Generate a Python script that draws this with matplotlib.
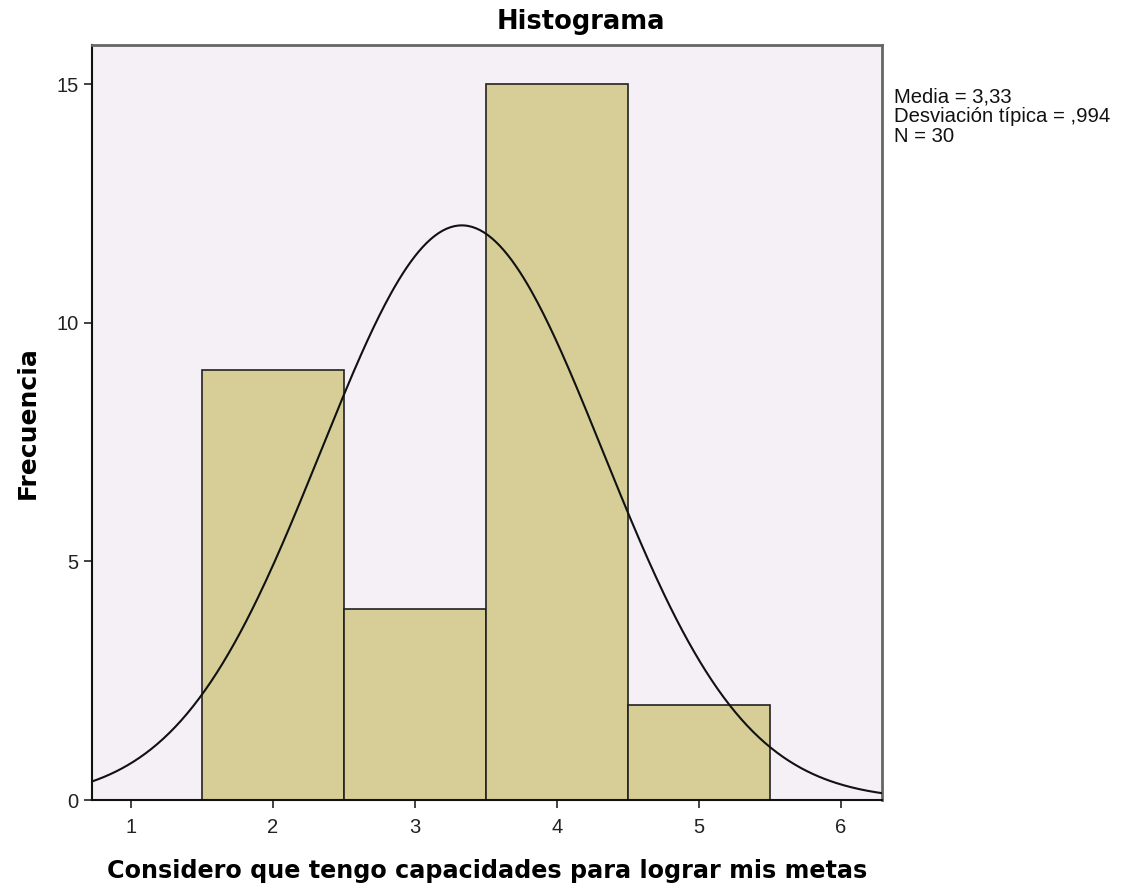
import matplotlib
matplotlib.use('Agg')
import matplotlib.pyplot as plt
import numpy as np

# histogram data
bin_centers = [2, 3, 4, 5]
frequencies = [9, 4, 15, 2]
mean = 3.33
std = 0.994
n = 30
x_ticks = [1, 2, 3, 4, 5, 6]
y_ticks = [0, 5, 10, 15]
stats_text = "Media = 3,33\nDesviación típica = ,994\nN = 30"

plt.rcParams['font.family'] = ['Liberation Sans', 'DejaVu Sans']

fig = plt.figure(figsize=(11.22, 8.88), dpi=100)
ax = fig.add_axes([92 / 1122, 88 / 888, 790 / 1122, 755 / 888])
ax.set_facecolor('#f5f0f5')

ax.bar(bin_centers, frequencies, width=1.0, color='#d6ce96',
       edgecolor='#222222', linewidth=1.2, zorder=2)

# normal curve scaled to counts (bin width 1)
xs = np.linspace(0.725, 6.29, 400)
ys = n / (std * np.sqrt(2 * np.pi)) * np.exp(-0.5 * ((xs - mean) / std) ** 2)
ax.plot(xs, ys, color='#111111', linewidth=1.5, zorder=3)

ax.set_xlim(0.725, 6.29)
ax.set_ylim(0, 15.82)
ax.set_xticks(x_ticks)
ax.set_yticks(y_ticks)
ax.tick_params(axis='both', labelsize=14.5, length=6, width=1.2, color='#222222',
               labelcolor='#222222')
ax.tick_params(axis='x', pad=7)
for side in ['left', 'bottom']:
    ax.spines[side].set_linewidth(1.5)
    ax.spines[side].set_color('#111111')
for side in ['top', 'right']:
    ax.spines[side].set_linewidth(2)
    ax.spines[side].set_color('#666666')

bold = dict(family='DejaVu Sans', fontweight='bold')
fig.text(581 / 1122, 1 - 22 / 888, 'Histograma', fontsize=18.5,
         ha='center', va='center', **bold)
ax.set_xlabel('Considero que tengo capacidades para lograr mis metas',
              fontsize=17.2, labelpad=16, **bold)
ax.set_ylabel('Frecuencia', fontsize=18, labelpad=12, **bold)

fig.text(894 / 1122, 1 - 87 / 888, stats_text, fontsize=14.6,
         va='top', ha='left', linespacing=1.05, color='#111111')

fig.savefig('out.png', dpi=100)
